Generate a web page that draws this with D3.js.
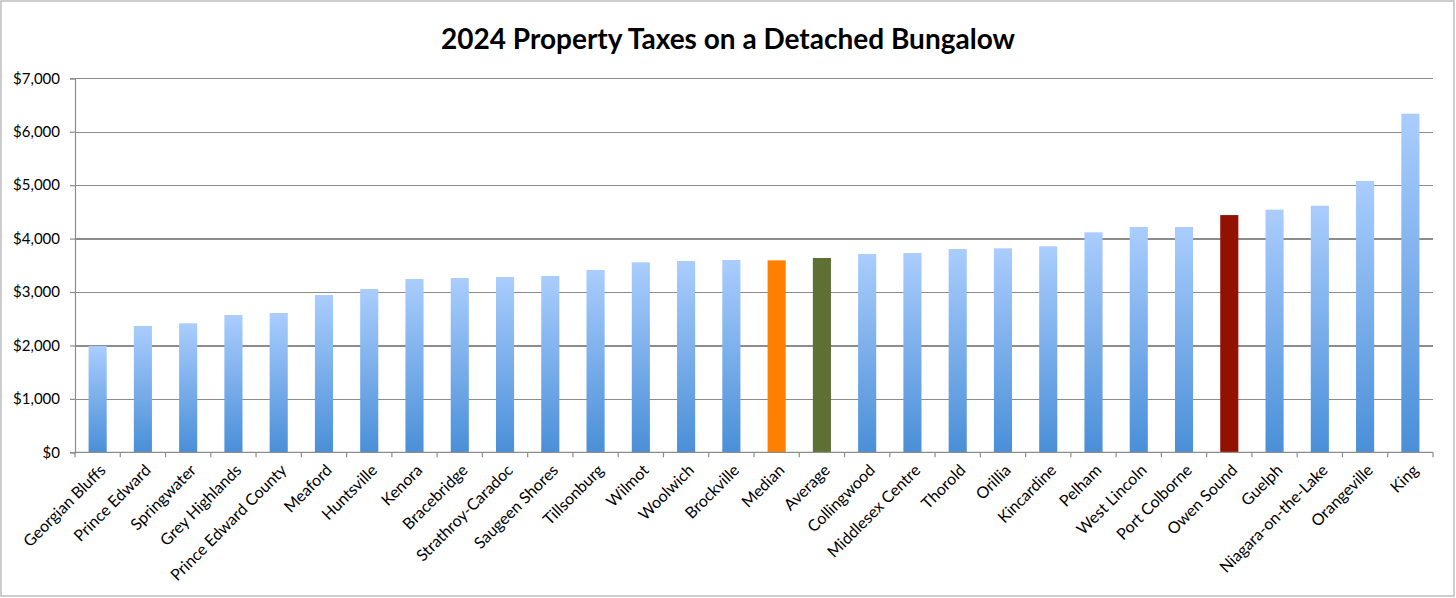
<!DOCTYPE html>
<html><head><meta charset="utf-8">
<script src="https://cdn.jsdelivr.net/npm/d3@7"></script>
<style>body{margin:0;background:#fff}svg{display:block}</style>
</head><body>
<svg id="c" width="1456" height="598"></svg>
<script>
const title = "2024 Property Taxes on a Detached Bungalow";
const categories = ["Georgian Bluffs","Prince Edward","Springwater","Grey Highlands","Prince Edward County","Meaford","Huntsville","Kenora","Bracebridge","Strathroy-Caradoc","Saugeen Shores","Tillsonburg","Wilmot","Woolwich","Brockville","Median","Average","Collingwood","Middlesex Centre","Thorold","Orillia","Kincardine","Pelham","West Lincoln","Port Colborne","Owen Sound","Guelph","Niagara-on-the-Lake","Orangeville","King"];
const values = [1990,2365,2415,2570,2607,2944,3056,3243,3262,3281,3300,3412,3556,3580,3599,3593,3637,3711,3730,3805,3818,3855,4117,4217,4217,4440,4541,4615,5078,6337];
const yTicks = [0,1000,2000,3000,4000,5000,6000,7000];
const specialColors = {"Median":"#ff8000","Average":"#5f7034","Owen Sound":"#931100"};

const svg = d3.select("#c");
const W = 1456, H = 598;
const L = 75, R = 1433, T = 78.3, B = 452.3;
const FONT = "Lato, 'Open Sans', sans-serif";

// outer frame
svg.append("rect").attr("x",1).attr("y",1).attr("width",W-3).attr("height",H-3)
  .attr("fill","#fff").attr("stroke","#bdbdbd").attr("stroke-width",1.5);

const defs = svg.append("defs");
const grad = defs.append("linearGradient").attr("id","bg").attr("x1",0).attr("y1",0).attr("x2",0).attr("y2",1);
grad.append("stop").attr("offset","0%").attr("stop-color","#aacdfd");
grad.append("stop").attr("offset","100%").attr("stop-color","#4a8fd8");

const x = d3.scaleBand().domain(categories).range([L,R]).paddingInner(0.6).paddingOuter(0.3);
const y = d3.scaleLinear().domain([0,7000]).range([B,T]);
const step = x.step();

// gridlines
svg.append("g").attr("transform",`translate(${L},0)`)
  .call(d3.axisLeft(y).tickValues(yTicks).tickSize(-(R-L)).tickFormat(""))
  .call(g=>g.select(".domain").remove())
  .call(g=>g.selectAll("line").attr("stroke","#8c8c8c").attr("stroke-width",1.2).attr("shape-rendering","crispEdges"));

// y axis
svg.append("g").attr("transform",`translate(${L},0)`)
  .call(d3.axisLeft(y).tickValues(yTicks).tickSize(5).tickPadding(10).tickFormat(d=>"$"+d3.format(",")(d)))
  .call(g=>g.select(".domain").attr("stroke","#8c8c8c").attr("stroke-width",1.2))
  .call(g=>g.selectAll("line").attr("stroke","#8c8c8c").attr("stroke-width",1.2))
  .call(g=>g.selectAll("text").attr("font-family",FONT).attr("font-size",15).attr("fill","#000"));

// bars
svg.append("g").selectAll("rect").data(categories).join("rect")
  .attr("x",d=>x(d)).attr("width",x.bandwidth())
  .attr("y",(d,i)=>y(values[i])).attr("height",(d,i)=>y(0)-y(values[i]))
  .attr("fill",d=>specialColors[d]||"url(#bg)");

// x axis line and ticks
const xg = svg.append("g");
xg.append("line").attr("x1",L).attr("x2",R).attr("y1",B).attr("y2",B)
  .attr("stroke","#8c8c8c").attr("stroke-width",1.2);
xg.selectAll("line.t").data(categories.concat(["__end"])).join("line").attr("class","t")
  .attr("x1",(d,i)=>L+i*step).attr("x2",(d,i)=>L+i*step)
  .attr("y1",B).attr("y2",B+5).attr("stroke","#8c8c8c").attr("stroke-width",1.2);

// x labels
xg.selectAll("text").data(categories).join("text")
  .attr("transform",d=>`translate(${x(d)+x.bandwidth()/2+5},${B+15}) rotate(-45)`)
  .attr("text-anchor","end").attr("dy","0.35em")
  .attr("font-family",FONT).attr("font-size",16).attr("fill","#000")
  .text(d=>d);

// title
svg.append("text").attr("x",728).attr("y",49).attr("text-anchor","middle")
  .attr("font-family",FONT).attr("font-weight","bold").attr("font-size",28).attr("fill","#000")
  .text(title);
</script>
</body></html>
